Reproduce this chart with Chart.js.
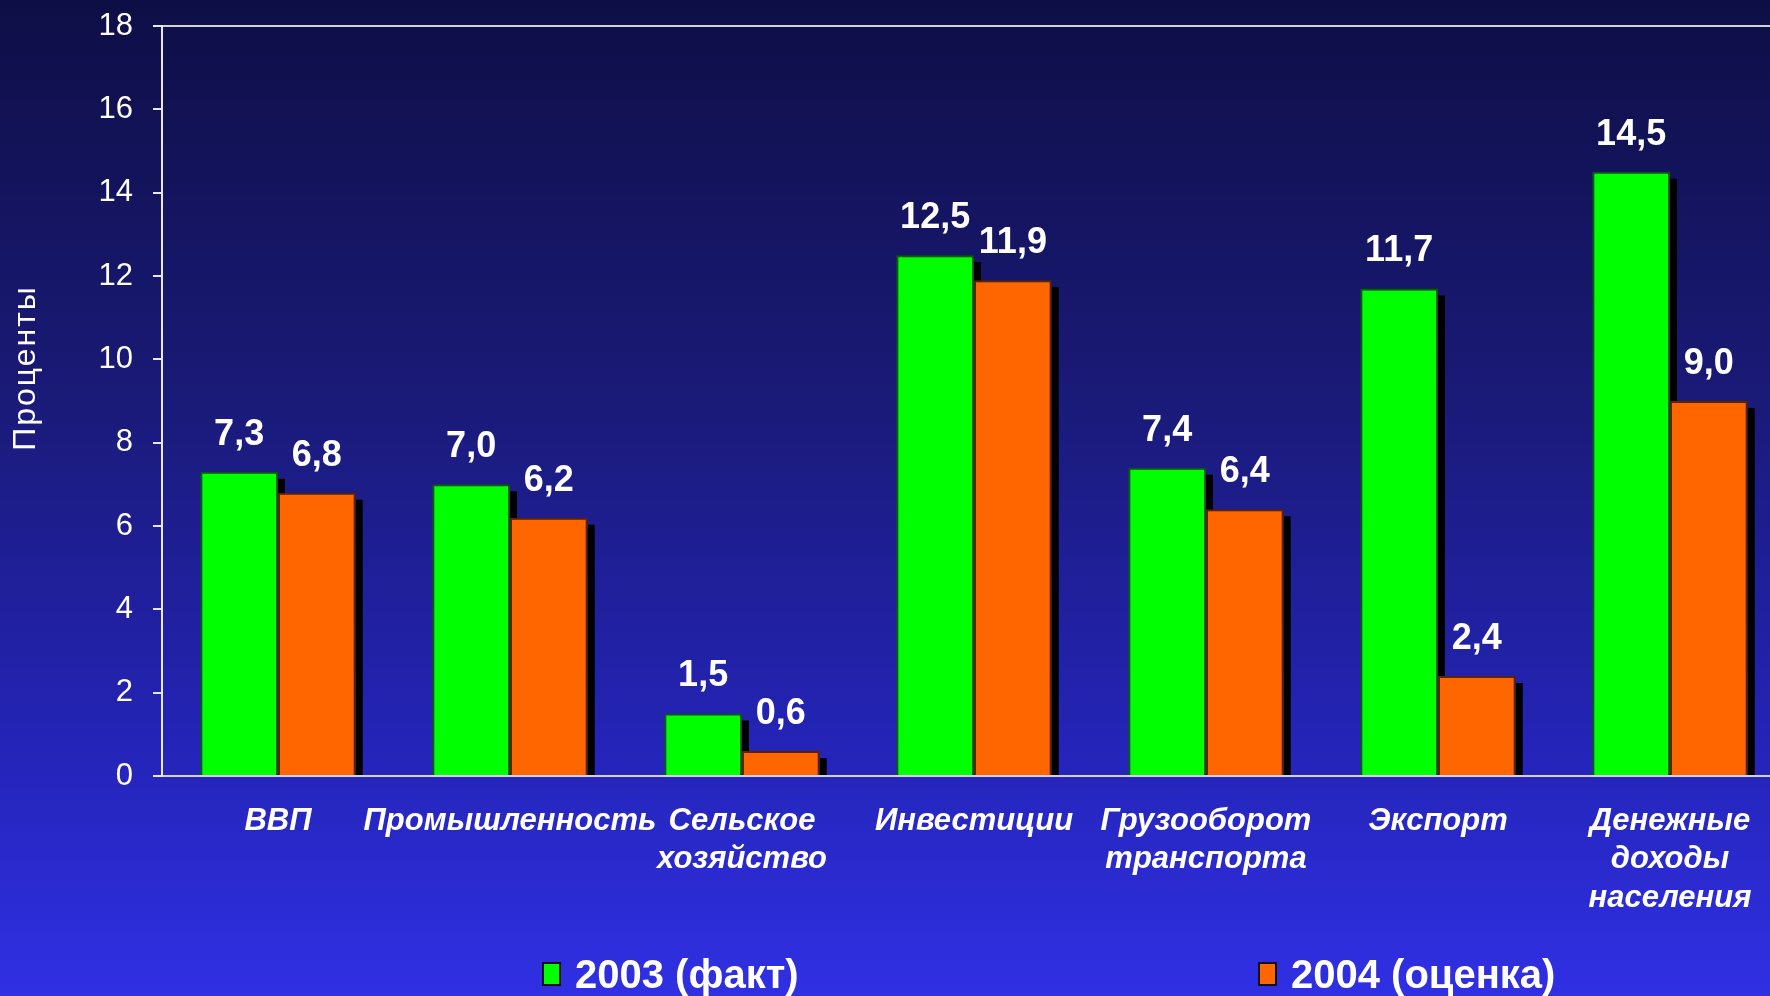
<!DOCTYPE html>
<html>
<head>
<meta charset="utf-8">
<script src="https://cdn.jsdelivr.net/npm/chart.js@4"></script>
<style>
html,body{margin:0;padding:0;width:1770px;height:996px;overflow:hidden;}
body{background:linear-gradient(to bottom,#0e0e46 0%,#1a1a78 40%,#2424b8 75%,#3030e4 100%);font-family:"Liberation Sans",Arial,sans-serif;}
#wrap{position:absolute;left:0;top:0;width:1786px;height:996px;}
#legend{position:absolute;left:0;top:0;width:1770px;height:996px;pointer-events:none;}
.item{position:absolute;top:950px;display:flex;align-items:center;color:#fff;font-weight:bold;font-size:40px;line-height:48px;white-space:nowrap;}
.box{width:19px;height:24px;margin-right:14px;border:2px solid #111;box-sizing:border-box;}
</style>
</head>
<body>
<div id="wrap"><canvas id="c"></canvas></div>
<div id="legend"></div>
<script>
// ----------------- Data -----------------
const categories = [
    ["ВВП"],
    ["Промышленность"],
    ["Сельское","хозяйство"],
    ["Инвестиции"],
    ["Грузооборот","транспорта"],
    ["Экспорт"],
    ["Денежные","доходы","населения"]
];
const fact2003 = [7.3, 7.0, 1.5, 12.5, 7.4, 11.7, 14.5];
const est2004  = [6.8, 6.2, 0.6, 11.9, 6.4, 2.4, 9.0];
const seriesNames = ["2003 (факт)", "2004 (оценка)"];
const yTicks = [0, 2, 4, 6, 8, 10, 12, 14, 16, 18];
const yTitle = "Проценты";

const fmt = v => v.toFixed(1).replace('.', ',');

// bar shadows (black strip right of each bar)
const shadowPlugin = {
    id:'shadows',
    beforeDatasetsDraw(chart){
        const ctx = chart.ctx;
        ctx.save();
        ctx.fillStyle = '#000';
        chart.data.datasets.forEach((ds,i)=>{
            chart.getDatasetMeta(i).data.forEach(bar=>{
                const right = bar.x + bar.width/2;
                ctx.fillRect(right, bar.y + 7, 7, bar.base - bar.y - 7);
            });
        });
        ctx.restore();
    }
};

// value labels + y title
const labelPlugin = {
    id:'valueLabels',
    afterDatasetsDraw(chart){
        const ctx = chart.ctx;
        ctx.save();
        ctx.fillStyle = '#fff';
        ctx.font = 'bold 36px "Liberation Sans", Arial, sans-serif';
        ctx.textAlign = 'center';
        ctx.textBaseline = 'middle';
        chart.data.datasets.forEach((ds,i)=>{
            chart.getDatasetMeta(i).data.forEach((bar,j)=>{
                ctx.fillText(fmt(ds.data[j]), bar.x, bar.y - 37);
            });
        });
        // y-axis title
        ctx.font = '32px "Liberation Sans", Arial, sans-serif';
        if ('letterSpacing' in ctx) ctx.letterSpacing = '2px';
        ctx.translate(26, 368);
        ctx.rotate(-Math.PI/2);
        ctx.fillText(yTitle, 0, 0);
        ctx.restore();
    }
};

const ctx = document.getElementById('c').getContext('2d');
const chart = new Chart(ctx, {
    type:'bar',
    data:{
        labels: categories,
        datasets:[
            {label:seriesNames[0], data:fact2003, backgroundColor:'#00ff00', borderColor:'#0b5a0b', borderWidth:2, borderSkipped:'bottom'},
            {label:seriesNames[1], data:est2004, backgroundColor:'#ff6600', borderColor:'#5a2400', borderWidth:2, borderSkipped:'bottom'}
        ]
    },
    options:{
        responsive:true,
        maintainAspectRatio:false,
        animation:false,
        layout:{padding:{top:26, left:0, right:0, bottom:0}},
        datasets:{bar:{categoryPercentage:0.67, barPercentage:1.0}},
        plugins:{legend:{display:false}, tooltip:{enabled:false}},
        scales:{
            x:{
                grid:{display:false},
                border:{display:false},
                ticks:{
                    color:'#fff', maxRotation:0, autoSkip:false, padding:18,
                    font:{family:'"Liberation Sans", Arial, sans-serif', size:31, weight:'bold', style:'italic', lineHeight:1.24}
                },
                afterFit(s){ s.height = 220; }
            },
            y:{
                min:0, max:18,
                afterBuildTicks(s){ s.ticks = yTicks.map(v=>({value:v})); },
                grid:{
                    color: c => (c.tick.value===0 || c.tick.value===18) ? '#d4d4d4' : 'rgba(0,0,0,0)',
                    tickColor:'#e8e8e8', tickLength:9, lineWidth:2
                },
                border:{color:'#e8e8e8', width:2},
                ticks:{
                    color:'#fff', padding:20,
                    font:{family:'"Liberation Sans", Arial, sans-serif', size:31}
                },
                afterFit(s){ s.width = 162; s.paddingTop = 0; s.paddingBottom = 0; }
            }
        }
    },
    plugins:[shadowPlugin, labelPlugin]
});

// legend
const legendEl = document.getElementById('legend');
const legendLeft = [542, 1258];
chart.data.datasets.forEach((ds,i)=>{
    const it = document.createElement('div');
    it.className = 'item';
    it.style.left = legendLeft[i] + 'px';
    it.innerHTML = `<span class="box" style="background:${ds.backgroundColor}"></span><span>${ds.label}</span>`;
    legendEl.appendChild(it);
});
</script>
</body>
</html>
